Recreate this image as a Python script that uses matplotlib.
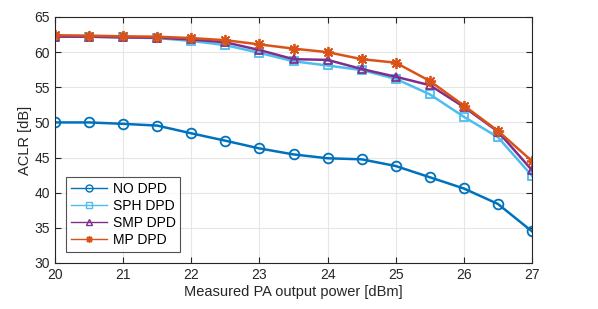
import numpy as np
import matplotlib
matplotlib.use("Agg")
import matplotlib.pyplot as plt

plt.rcParams['font.family'] = ['Liberation Sans', 'DejaVu Sans']

# output power [dBm]
power = [20, 20.5, 21, 21.5, 22, 22.5, 23, 23.5, 24, 24.5, 25, 25.5, 26, 26.5, 27]

# ACLR [dB] per predistorter
no_dpd = [50.0, 50.0, 49.8, 49.55, 48.45, 47.4, 46.3, 45.45, 44.9, 44.75, 43.8, 42.2, 40.6, 38.4, 34.5]
sph_dpd = [62.2, 62.2, 62.1, 62.0, 61.6, 61.0, 59.9, 58.7, 58.1, 57.45, 56.2, 54.0, 50.8, 47.9, 42.4]
smp_dpd = [62.2, 62.2, 62.1, 62.05, 61.8, 61.4, 60.3, 59.0, 58.9, 57.6, 56.5, 55.3, 52.2, 48.7, 43.2]
mp_dpd = [62.4, 62.35, 62.25, 62.2, 62.0, 61.7, 61.1, 60.5, 60.0, 59.0, 58.5, 55.9, 52.4, 48.8, 44.5]

fig = plt.figure(figsize=(5.98, 3.09), dpi=100)
ax = fig.add_axes([55 / 598, 1 - 263 / 309, (532 - 55) / 598, (263 - 17) / 309])

asterisk = (8, 2, 0)
ax.plot(power, no_dpd, '-o', color='#0072BD', lw=1.8, ms=7, mfc='none', mew=1.3, label='NO DPD')
ax.plot(power, sph_dpd, '-s', color='#4DBEEE', lw=1.8, ms=6, mfc='none', mew=1.3, label='SPH DPD')
ax.plot(power, smp_dpd, '-^', color='#7E2F8E', lw=1.8, ms=6, mfc='none', mew=1.3, label='SMP DPD')
ax.plot(power, mp_dpd, '-', marker=asterisk, color='#D95319', lw=1.8, ms=8, mew=1.3, label='MP DPD')

ax.set_xlim(20, 27)
ax.set_ylim(30, 65)
ax.set_xticks(np.arange(20, 28, 1))
ax.set_yticks(np.arange(30, 66, 5))
ax.grid(True, color='#e6e6e6', lw=0.8)
ax.set_axisbelow(True)
ax.tick_params(direction='in', top=True, right=True, labelsize=10, colors='#262626', length=4)
for s in ax.spines.values():
    s.set_color('#262626')
    s.set_linewidth(0.8)

ax.set_xlabel('Measured PA output power [dBm]', fontsize=10.5, color='#262626', labelpad=2)
ax.set_ylabel('ACLR [dB]', fontsize=10.5, color='#262626', labelpad=2)

leg = ax.legend(loc='lower left', fontsize=10, fancybox=False, edgecolor='#262626',
                borderaxespad=0.8, handlelength=2.6, handletextpad=0.4,
                labelspacing=0.22, borderpad=0.35)
leg.get_frame().set_linewidth(0.8)
for ln in leg.get_lines():
    ln.set_linewidth(1.0)
    ln.set_markersize(5)
    ln.set_markeredgewidth(1.0)

fig.savefig('out.png', dpi=100)
